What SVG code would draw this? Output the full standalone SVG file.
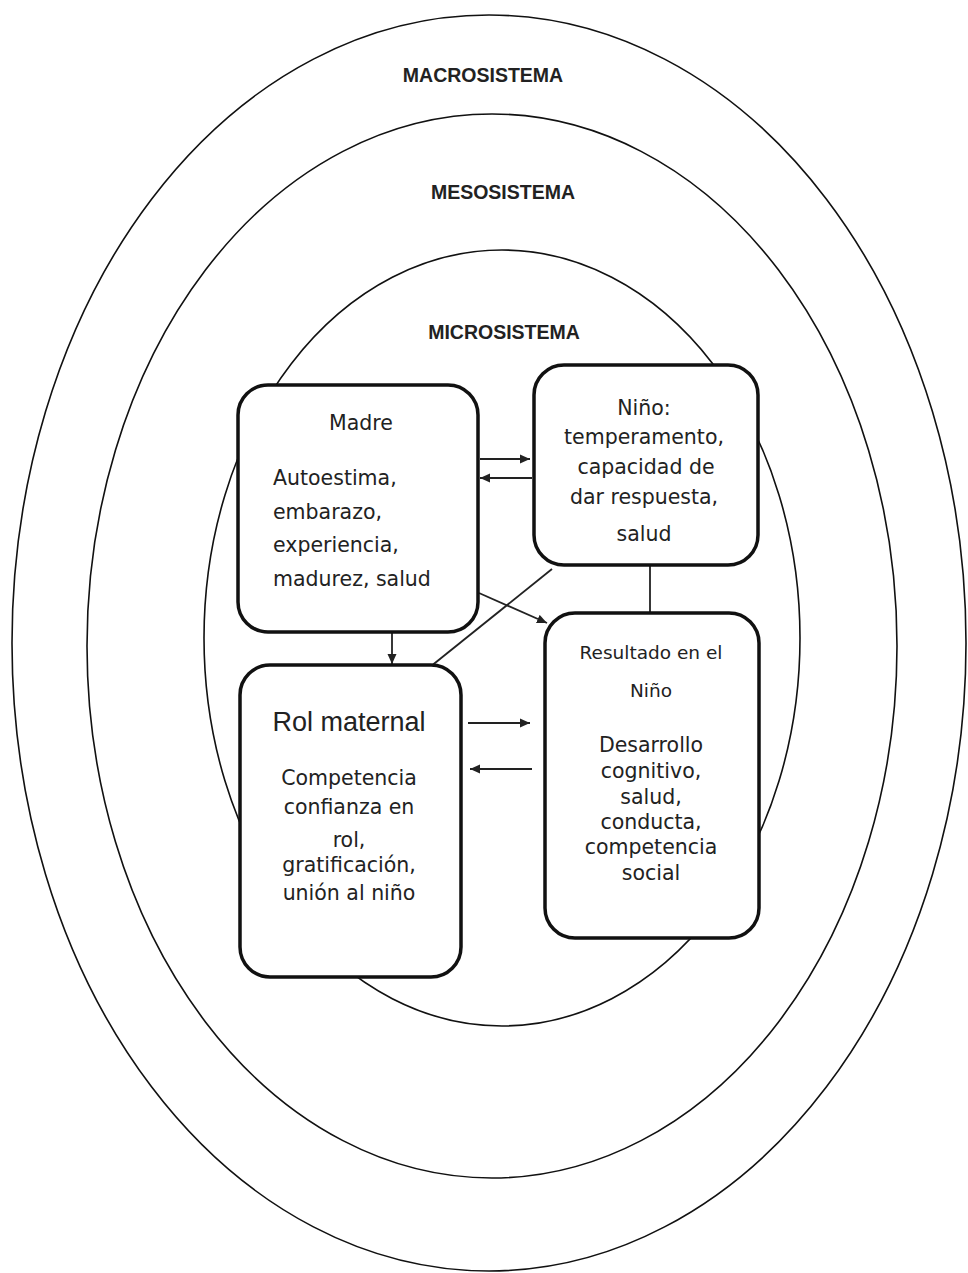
<svg xmlns="http://www.w3.org/2000/svg" width="968" height="1273" viewBox="0 0 968 1273">
<style>
.ring{fill:none;stroke:#111;stroke-width:1.6}
.box{fill:#fff;stroke:#111;stroke-width:3.5}
.lbl{font-family:"Liberation Sans",Arial,sans-serif;font-weight:bold;font-size:19.5px;fill:#222;text-anchor:middle}
.t{font-family:"DejaVu Sans",Verdana,sans-serif;font-size:20.5px;fill:#222}
.c{text-anchor:middle}
.big{font-family:"Liberation Sans",Arial,sans-serif;font-size:27px;fill:#222;text-anchor:middle}
.con{fill:none;stroke:#222;stroke-width:1.8}
</style>
<defs>
<marker id="ah" markerUnits="userSpaceOnUse" markerWidth="11" markerHeight="10" refX="10" refY="5" orient="auto">
<path d="M0,0.5 L10,5 L0,9.5 z" fill="#222"/>
</marker>
</defs>
<rect x="0" y="0" width="968" height="1273" fill="#fff"/>
<g id="macrosistema">
<ellipse class="ring" cx="489" cy="643" rx="477" ry="628"/>
<text class="lbl" x="483" y="82">MACROSISTEMA</text>
</g>
<g id="mesosistema">
<ellipse class="ring" cx="492" cy="646" rx="405" ry="532"/>
<text class="lbl" x="503" y="199">MESOSISTEMA</text>
</g>
<g id="microsistema">
<ellipse class="ring" cx="502" cy="638" rx="298" ry="388"/>
<text class="lbl" x="504" y="339">MICROSISTEMA</text>
</g>
<g id="connectors">
<line class="con" x1="480" y1="459" x2="530" y2="459" marker-end="url(#ah)"/>
<line class="con" x1="532" y1="478" x2="480" y2="478" marker-end="url(#ah)"/>
<line class="con" x1="392" y1="632" x2="392" y2="664" marker-end="url(#ah)"/>
<line class="con" x1="479" y1="593" x2="547" y2="623" marker-end="url(#ah)"/>
<line class="con" x1="552" y1="569" x2="430" y2="667"/>
<line class="con" x1="650" y1="565" x2="650" y2="613"/>
<line class="con" x1="468" y1="723" x2="530" y2="723" marker-end="url(#ah)"/>
<line class="con" x1="532" y1="769" x2="470" y2="769" marker-end="url(#ah)"/>
</g>
<g id="madre">
<rect class="box" x="238" y="385" width="240" height="247" rx="30"/>
<text class="t c" x="361" y="430">Madre</text>
<text class="t" x="273" y="485">Autoestima,</text>
<text class="t" x="273" y="519">embarazo,</text>
<text class="t" x="273" y="552">experiencia,</text>
<text class="t" x="273" y="586">madurez, salud</text>
</g>
<g id="nino">
<rect class="box" x="534" y="365" width="224" height="200" rx="30"/>
<text class="t c" x="644" y="415">Niño:</text>
<text class="t c" x="644" y="444">temperamento,</text>
<text class="t c" x="646" y="474">capacidad de</text>
<text class="t c" x="644" y="504">dar respuesta,</text>
<text class="t c" x="644" y="541">salud</text>
</g>
<g id="rol-maternal">
<rect class="box" x="240" y="665" width="221" height="312" rx="30"/>
<text class="big" x="349" y="731">Rol maternal</text>
<text class="t c" x="349" y="785">Competencia</text>
<text class="t c" x="349" y="814">confianza en</text>
<text class="t c" x="349" y="847">rol,</text>
<text class="t c" x="349" y="872">gratificación,</text>
<text class="t c" x="349" y="900">unión al niño</text>
</g>
<g id="resultado">
<rect class="box" x="545" y="613" width="214" height="325" rx="30"/>
<text class="t c" x="651" y="659" style="font-size:18.5px">Resultado en el</text>
<text class="t c" x="651" y="697" style="font-size:18.5px">Niño</text>
<text class="t c" x="651" y="752">Desarrollo</text>
<text class="t c" x="651" y="778">cognitivo,</text>
<text class="t c" x="651" y="804">salud,</text>
<text class="t c" x="651" y="829">conducta,</text>
<text class="t c" x="651" y="854">competencia</text>
<text class="t c" x="651" y="880">social</text>
</g>
</svg>
